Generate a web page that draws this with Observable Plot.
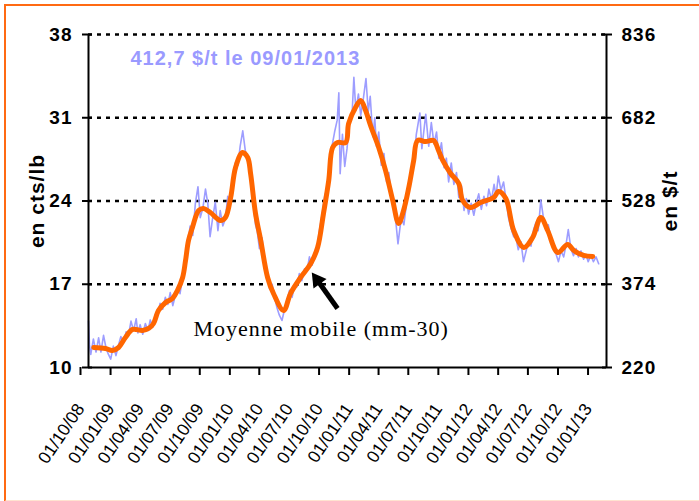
<!DOCTYPE html>
<html><head><meta charset="utf-8">
<script src="https://cdn.jsdelivr.net/npm/d3@7"></script>
<script src="https://cdn.jsdelivr.net/npm/@observablehq/plot@0.6"></script>
<style>
html,body{margin:0;padding:0;background:#fff;}
#wrap{position:relative;width:699px;height:501px;overflow:hidden;background:#fff;}
#border{position:absolute;left:4px;top:4px;width:720px;height:494px;border-left:2px solid #ff6a13;border-top:2px solid #ff6a13;border-bottom:2px solid #ffe3d0;pointer-events:none;}
g[aria-label="y-axis tick label"] text{letter-spacing:1px;}
g[aria-label="text"] text{letter-spacing:1px;}
</style></head><body><div id="wrap"><div id="chart"></div><div id="border"></div></div>
<script>
const xDomain = ["2008-10-01", "2013-02-02"];
const yDomain = [10, 38];
const yTicks = [10, 17, 24, 31, 38];
const yTicksRight = [220, 374, 528, 682, 836];
const gridValues = [17, 24, 31, 38];
const xTickDates = ["2008-10-01","2009-01-01","2009-04-01","2009-07-01","2009-10-01","2010-01-01","2010-04-01","2010-07-01","2010-10-01","2011-01-01","2011-04-01","2011-07-01","2011-10-01","2012-01-01","2012-04-01","2012-07-01","2012-10-01","2013-01-01"];
const xTickLabels = ["01/10/08","01/01/09","01/04/09","01/07/09","01/10/09","01/01/10","01/04/10","01/07/10","01/10/10","01/01/11","01/04/11","01/07/11","01/10/11","01/01/12","01/04/12","01/07/12","01/10/12","01/01/13"];
const leftTitle = "en cts/lb";
const rightTitle = "en $/t";
const lastLabel = "412,7 $/t le 09/01/2013";
const maLabel = "Moyenne mobile (mm-30)";
const arrowTail = ["2010-11-02", 14.96];
const arrowHead = ["2010-09-01", 17.36];

// raw price, cts/lb
const rawPrice = [
["2008-10-01",13.9],["2008-10-04",11.9],["2008-10-08",11.1],["2008-10-16",12.4],["2008-10-24",11.3],
["2008-11-01",12.5],["2008-11-08",11.3],["2008-11-16",12.7],["2008-11-24",11.6],
["2008-12-01",11.1],["2008-12-08",10.7],["2008-12-16",11.8],["2008-12-24",11.0],
["2009-01-01",11.9],["2009-01-08",12.6],["2009-01-16",12.1],["2009-01-24",13.0],
["2009-02-01",12.8],["2009-02-08",13.9],["2009-02-16",13.1],["2009-02-24",14.1],
["2009-03-01",12.9],["2009-03-08",13.6],["2009-03-16",12.8],["2009-03-24",13.7],
["2009-04-01",13.1],["2009-04-08",14.0],["2009-04-16",13.4],["2009-04-24",14.5],
["2009-05-01",14.4],["2009-05-08",15.4],["2009-05-16",14.9],["2009-05-24",15.9],
["2009-06-01",15.3],["2009-06-08",16.3],["2009-06-16",15.2],["2009-06-24",16.1],
["2009-07-01",16.6],["2009-07-08",16.2],["2009-07-16",17.6],["2009-07-24",18.8],
["2009-08-01",20.4],["2009-08-08",21.9],["2009-08-16",21.1],["2009-08-24",23.8],
["2009-09-01",25.2],["2009-09-08",22.6],["2009-09-16",23.4],["2009-09-24",25.0],
["2009-10-01",23.8],["2009-10-08",21.0],["2009-10-16",22.6],["2009-10-24",23.9],
["2009-11-01",21.5],["2009-11-08",23.2],["2009-11-16",21.9],["2009-11-24",22.5],
["2009-12-01",24.4],["2009-12-08",23.9],["2009-12-16",26.0],["2009-12-24",27.2],
["2010-01-01",27.0],["2010-01-08",28.6],["2010-01-16",29.9],["2010-01-24",28.2],
["2010-02-01",27.6],["2010-02-08",26.0],["2010-02-16",24.2],["2010-02-24",22.0],
["2010-03-01",21.5],["2010-03-08",20.0],["2010-03-16",20.9],["2010-03-24",18.8],
["2010-04-01",17.9],["2010-04-08",16.6],["2010-04-16",17.0],["2010-04-24",15.8],
["2010-05-01",15.0],["2010-05-08",14.4],["2010-05-16",13.95],["2010-05-24",14.9],
["2010-06-01",15.6],["2010-06-08",16.5],["2010-06-16",15.9],["2010-06-24",17.0],
["2010-07-01",16.8],["2010-07-08",17.9],["2010-07-16",17.3],["2010-07-24",18.3],
["2010-08-01",18.2],["2010-08-08",19.3],["2010-08-16",18.6],["2010-08-24",19.6],
["2010-09-01",20.2],["2010-09-08",21.6],["2010-09-16",22.9],["2010-09-24",24.5],
["2010-10-01",25.0],["2010-10-08",27.0],["2010-10-16",28.6],["2010-10-24",29.8],
["2010-11-01",30.8],["2010-11-06",33.1],["2010-11-10",26.3],["2010-11-17",29.6],["2010-11-24",26.9],
["2010-12-01",28.4],["2010-12-08",30.5],["2010-12-16",31.0],["2010-12-22",34.4],["2010-12-28",31.6],
["2011-01-05",33.0],["2011-01-12",31.2],["2011-01-20",32.6],["2011-01-28",34.3],
["2011-02-04",31.5],["2011-02-10",32.8],["2011-02-18",29.4],["2011-02-24",31.0],
["2011-03-01",28.6],["2011-03-08",29.8],["2011-03-16",27.0],["2011-03-24",28.0],
["2011-04-01",25.6],["2011-04-08",26.4],["2011-04-16",24.2],["2011-04-24",23.6],
["2011-05-01",21.8],["2011-05-06",20.4],["2011-05-16",22.6],["2011-05-24",22.0],
["2011-06-01",23.8],["2011-06-08",25.0],["2011-06-16",26.2],["2011-06-24",27.4],
["2011-07-01",29.6],["2011-07-12",31.4],["2011-07-18",28.4],["2011-07-30",31.3],
["2011-08-08",28.6],["2011-08-16",30.6],["2011-08-24",28.8],
["2011-09-01",29.8],["2011-09-08",27.6],["2011-09-16",28.9],["2011-09-24",26.8],
["2011-10-01",27.6],["2011-10-08",25.6],["2011-10-16",27.2],["2011-10-24",25.4],
["2011-11-01",26.4],["2011-11-08",24.3],["2011-11-16",25.3],["2011-11-24",23.2],
["2011-12-01",24.2],["2011-12-08",22.9],["2011-12-16",23.8],["2011-12-24",22.8],
["2012-01-01",23.9],["2012-01-08",24.6],["2012-01-16",23.3],["2012-01-24",24.4],
["2012-02-01",23.6],["2012-02-08",25.0],["2012-02-16",24.1],["2012-02-24",25.4],
["2012-03-01",24.4],["2012-03-08",26.1],["2012-03-16",24.9],["2012-03-24",25.6],
["2012-04-01",24.0],["2012-04-08",22.6],["2012-04-16",21.7],["2012-04-24",21.0],
["2012-05-01",20.9],["2012-05-08",19.9],["2012-05-16",20.6],["2012-05-24",18.9],
["2012-06-01",19.8],["2012-06-08",20.6],["2012-06-16",20.2],["2012-06-24",21.6],
["2012-07-01",22.2],["2012-07-08",21.5],["2012-07-16",24.1],["2012-07-24",22.6],
["2012-08-01",21.6],["2012-08-08",22.0],["2012-08-16",20.8],["2012-08-24",20.2],
["2012-09-01",19.5],["2012-09-08",18.9],["2012-09-16",19.8],["2012-09-24",19.3],
["2012-10-01",20.3],["2012-10-08",21.6],["2012-10-16",20.0],["2012-10-24",19.4],
["2012-11-01",20.0],["2012-11-08",19.3],["2012-11-16",19.8],["2012-11-24",19.1],
["2012-12-01",19.5],["2012-12-08",18.9],["2012-12-16",19.4],["2012-12-24",18.9],
["2013-01-01",19.3],["2013-01-09",18.72]
];

// 30-day moving average, cts/lb
const movingAverage = [
["2008-10-17",11.68],["2008-11-22",11.60],["2008-12-13",11.43],["2009-01-01",11.68],["2009-01-22",12.52],["2009-02-13",13.20],["2009-03-15",13.11],["2009-04-03",13.28],["2009-04-18",13.70],["2009-05-03",14.79],["2009-05-25",15.47],["2009-06-15",15.80],["2009-06-30",16.47],["2009-07-16",17.57],["2009-07-25",19.00],["2009-08-03",20.68],["2009-08-15",21.77],["2009-09-03",23.20],["2009-09-18",23.37],["2009-10-09",23.03],["2009-11-09",22.36],["2009-11-24",22.61],["2009-12-10",24.29],["2009-12-25",26.82],["2010-01-15",28.08],["2010-01-31",27.66],["2010-02-09",26.31],["2010-02-24",22.95],["2010-03-12",20.68],["2010-04-02",17.57],["2010-04-20",16.22],["2010-05-21",14.79],["2010-06-11",16.22],["2010-07-12",17.57],["2010-08-12",18.74],["2010-09-02",20.09],["2010-09-20",22.95],["2010-10-06",25.72],["2010-10-18",28.50],["2010-11-02",28.92],["2010-11-27",28.92],["2010-12-06",30.52],["2010-12-27",31.86],["2011-01-12",32.45],["2011-01-27",31.61],["2011-02-11",30.35],["2011-03-08",28.50],["2011-03-29",26.56],["2011-04-20",24.04],["2011-05-08",22.11],["2011-05-23",23.20],["2011-06-08",25.13],["2011-06-23",27.41],["2011-07-05",29.09],["2011-07-30",29.00],["2011-08-23",29.09],["2011-09-07",28.25],["2011-09-20",27.41],["2011-10-14",26.31],["2011-11-08",25.47],["2011-11-20",24.04],["2011-12-14",23.45],["2012-01-14",23.87],["2012-02-23",24.29],["2012-03-09",24.80],["2012-03-31",24.21],["2012-04-24",21.52],["2012-05-25",20.09],["2012-06-21",20.93],["2012-07-16",22.61],["2012-08-06",21.52],["2012-09-06",19.67],["2012-10-06",20.34],["2012-10-25",19.84],["2012-11-24",19.42],["2012-12-22",19.33]
];

const parse = d3.utcParse("%Y-%m-%d");
const raw = rawPrice.map(([d, v]) => ({date: parse(d), value: v}));
const ma = movingAverage.map(([d, v]) => ({date: parse(d), value: v}));
const xDom = xDomain.map(parse);
const xTicks = xTickDates.map(parse);
const xTickMs = xTicks.map(d => +d);
const arrow = [{x1: parse(arrowTail[0]), y1: arrowTail[1], x2: parse(arrowHead[0]), y2: arrowHead[1]}];

const sans = "Arial, 'Liberation Sans', sans-serif";
const chart = Plot.plot({
  width: 699, height: 501,
  marginLeft: 88, marginRight: 93, marginTop: 34, marginBottom: 134,
  style: {fontFamily: sans, background: "white", overflow: "visible", color: "black"},
  x: {type: "utc", domain: xDom},
  y: {domain: yDomain},
  marks: [
    Plot.ruleY(gridValues, {stroke: "black", strokeWidth: 2.5, strokeDasharray: "4,5"}),
    Plot.line(raw, {x: "date", y: "value", stroke: "#9d9dff", strokeWidth: 1.6}),
    Plot.line(ma, {x: "date", y: "value", stroke: "#ff6600", strokeWidth: 5, curve: "catmull-rom", strokeLinejoin: "round", strokeLinecap: "round"}),
    Plot.ruleX(xDom, {stroke: "black", strokeWidth: 2}),
    Plot.ruleY([yDomain[0]], {stroke: "black", strokeWidth: 2}),
    Plot.axisY({anchor: "left", ticks: yTicks, tickSize: 6, tickPadding: 10, strokeWidth: 2, fontSize: 19, fontWeight: "bold", label: null}),
    Plot.axisY({anchor: "left", ticks: yTicks, tickSize: -4, strokeWidth: 2, text: null, label: null}),
    Plot.axisY({anchor: "right", ticks: yTicks, tickSize: 5, tickPadding: 10, strokeWidth: 2, fontSize: 19, fontWeight: "bold", label: null,
      tickFormat: d => yTicksRight[yTicks.indexOf(d)]}),
    Plot.axisY({anchor: "right", ticks: yTicks, tickSize: -5, strokeWidth: 2, text: null, label: null}),
    Plot.axisX({ticks: xTicks, tickSize: 8, tickPadding: 30, tickRotate: -56, dx: -8, strokeWidth: 2, fontSize: 17.5, label: null,
      tickFormat: d => xTickLabels[xTickMs.indexOf(+d)]}),
    Plot.text([leftTitle], {frameAnchor: "left", textAnchor: "middle", rotate: -90, dx: -51, fontSize: 21, fontWeight: "bold"}),
    Plot.text([rightTitle], {frameAnchor: "right", textAnchor: "middle", rotate: -90, dx: 64, fontSize: 21, fontWeight: "bold"}),
    Plot.text([lastLabel], {frameAnchor: "top-left", dx: 42, dy: 30, textAnchor: "start", lineAnchor: "bottom", fill: "#9a9aff", fontSize: 20, fontWeight: "bold"}),
    Plot.text([maLabel], {frameAnchor: "bottom-left", dx: 105, dy: -32, textAnchor: "start", lineAnchor: "bottom", fontFamily: "'Liberation Serif', 'Times New Roman', serif", fontSize: 22}),
    Plot.link(arrow, {x1: "x1", y1: "y1", x2: "x2", y2: "y2", stroke: "black", strokeWidth: 5}),
    Plot.dot(arrow, {x: "x2", y: "y2", symbol: "triangle", r: 6, fill: "black", rotate: -36})
  ]
});
document.getElementById("chart").appendChild(chart);
</script>
</body></html>
